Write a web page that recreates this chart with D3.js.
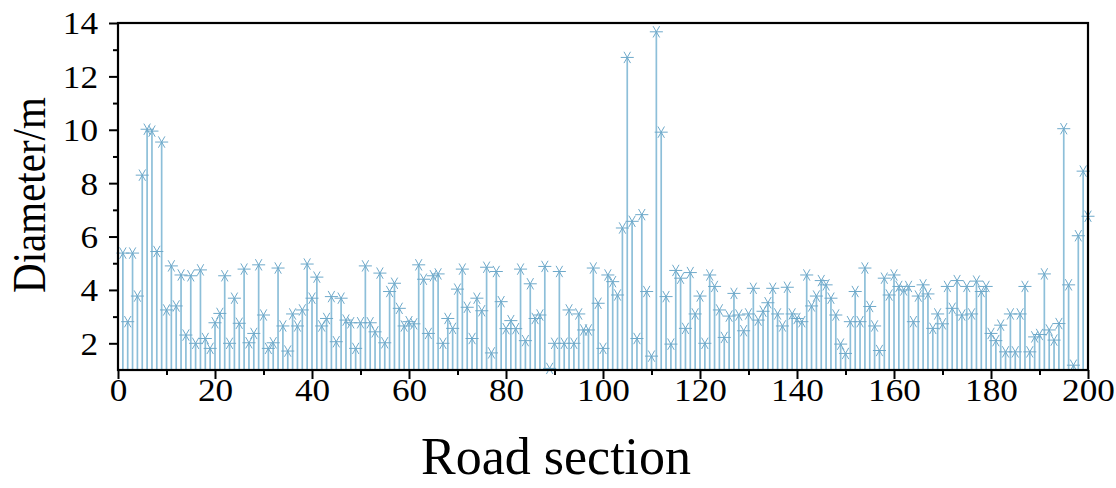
<!DOCTYPE html>
<html>
<head>
<meta charset="utf-8">
<script src="https://cdn.jsdelivr.net/npm/d3@7"></script>
<style>
  body { margin: 0; background: #fff; }
  svg text { font-family: "Liberation Serif", "Times New Roman", serif; fill: #000; }
</style>
</head>
<body>
<div id="chart"></div>
<script>
// road section index 1..200, diameter in metres
const diameters = [
  5.38, 2.81, 5.38, 3.77, 8.30, 10.02, 9.95, 5.44, 9.54, 3.25,
  4.90, 3.40, 4.56, 2.31, 4.53, 2.00, 4.75, 2.18, 1.81, 2.77,
  3.12, 4.53, 2.00, 3.69, 2.75, 4.78, 2.02, 2.37, 4.94, 3.06,
  1.81, 2.02, 4.82, 2.65, 1.71, 3.10, 2.65, 3.25, 4.97, 3.69,
  4.48, 2.65, 2.93, 3.75, 2.06, 3.69, 2.87, 2.77, 1.81, 2.77,
  4.90, 2.77, 2.43, 4.63, 2.02, 3.94, 4.25, 3.31, 2.65, 2.81,
  2.73, 4.94, 4.40, 2.37, 4.53, 4.60, 2.00, 2.93, 2.56, 4.03,
  4.78, 3.35, 2.18, 3.69, 3.22, 4.85, 1.64, 4.69, 3.56, 2.55,
  2.85, 2.55, 4.78, 2.10, 4.23, 2.93, 3.06, 4.88, 1.06, 2.00,
  4.69, 2.00, 3.25, 2.00, 3.10, 2.50, 2.50, 4.82, 3.50, 1.81,
  4.56, 4.31, 3.81, 6.32, 12.71, 6.57, 2.18, 6.82, 3.94, 1.52,
  13.67, 9.91, 3.75, 1.97, 4.73, 4.44, 2.56, 4.65, 3.10, 3.77,
  2.00, 4.56, 4.13, 3.25, 2.22, 3.02, 3.87, 3.06, 2.47, 3.10,
  4.06, 2.87, 3.20, 3.52, 4.06, 3.10, 2.65, 4.10, 3.10, 2.93,
  2.81, 4.56, 3.40, 3.77, 4.35, 4.19, 3.69, 3.06, 1.97, 1.62,
  2.81, 3.94, 2.81, 4.82, 3.38, 2.65, 1.73, 4.44, 3.81, 4.56,
  4.13, 4.00, 4.13, 2.81, 3.77, 4.19, 3.85, 2.56, 3.10, 2.73,
  4.13, 3.31, 4.35, 3.06, 4.13, 3.10, 4.33, 3.94, 4.13, 2.37,
  2.10, 2.68, 1.68, 3.10, 1.68, 3.10, 4.13, 1.68, 2.24, 2.33,
  4.60, 2.50, 2.12, 2.74, 10.04, 4.19, 1.18, 6.03, 8.45, 6.76
];
const sections = diameters.map((d, i) => i + 1);

const xTicks = [0, 20, 40, 60, 80, 100, 120, 140, 160, 180, 200];
const yTicks = [2, 4, 6, 8, 10, 12, 14];

const width = 1116, height = 488;
const margin = { top: 23, right: 28, bottom: 118, left: 118 };
const innerW = width - margin.left - margin.right;
const innerH = height - margin.top - margin.bottom;

// the picture is a little stretched sideways
const stretch = 1.1;

const stemColor = "#8dbfd9";
const markColor = "#6ea9ca";

const svg = d3.select("#chart").append("svg")
  .attr("width", width)
  .attr("height", height);

const g = svg.append("g")
  .attr("transform", "translate(" + margin.left + "," + margin.top + ")");

const x = d3.scaleLinear().domain([0, 200]).range([0, innerW]);
const y = d3.scaleLinear().domain([1, 14]).range([innerH, 0]);

// stems
g.selectAll("line.stem")
  .data(sections)
  .enter().append("line")
  .attr("class", "stem")
  .attr("x1", d => x(d)).attr("x2", d => x(d))
  .attr("y1", y(1))
  .attr("y2", (d, i) => y(diameters[i]))
  .attr("stroke", stemColor)
  .attr("stroke-width", 1.7);

// asterisk markers
const star = d3.symbol().type(d3.symbolAsterisk).size(120);
g.selectAll("path.mark")
  .data(sections)
  .enter().append("path")
  .attr("class", "mark")
  .attr("d", star)
  .attr("transform", (d, i) => "translate(" + x(d) + "," + y(diameters[i]) + ") rotate(90)")
  .attr("fill", "none")
  .attr("stroke", markColor)
  .attr("stroke-width", 1);

// axes
const xAxis = d3.axisBottom(x).tickValues(xTicks).tickSize(9).tickFormat(d3.format("d"));
const xMinor = d3.axisBottom(x).tickValues(d3.range(10, 200, 20)).tickSize(5).tickFormat("");
const yAxis = d3.axisLeft(y).tickValues(yTicks).tickSize(9).tickFormat(d3.format("d"));
const yMinor = d3.axisLeft(y).tickValues(d3.range(3, 14, 2)).tickSize(5).tickFormat("");

function styleAxis(sel) {
  sel.select(".domain").remove();
  sel.selectAll("line").attr("stroke", "#000").attr("stroke-width", 2);
}

g.append("g").attr("transform", "translate(0," + innerH + ")").call(xMinor).call(styleAxis);
g.append("g").attr("transform", "translate(0," + innerH + ")").call(xAxis).call(styleAxis)
  .selectAll("text")
  .attr("font-size", 32)
  .attr("y", 8).attr("dy", "0.71em")
  .attr("transform", "scale(" + stretch + ",1)");
g.append("g").call(yMinor).call(styleAxis);
g.append("g").call(yAxis).call(styleAxis)
  .selectAll("text")
  .attr("font-size", 32)
  .attr("x", -20 / stretch).attr("dy", "0.34em")
  .attr("transform", "scale(" + stretch + ",1)");

// frame
g.append("rect")
  .attr("width", innerW).attr("height", innerH)
  .attr("fill", "none")
  .attr("stroke", "#000")
  .attr("stroke-width", 2.2);

// titles
svg.append("text")
  .attr("transform", "translate(45,195) scale(1.15,1) rotate(-90)")
  .attr("text-anchor", "middle")
  .attr("font-size", 41)
  .text("Diameter/m");

svg.append("text")
  .attr("x", 556).attr("y", 474)
  .attr("text-anchor", "middle")
  .attr("font-size", 52)
  .text("Road section");
</script>
</body>
</html>
